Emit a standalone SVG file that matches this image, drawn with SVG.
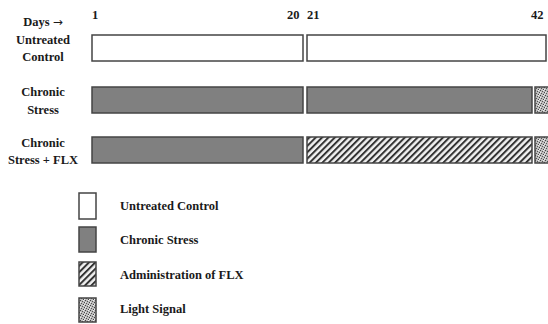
<svg xmlns="http://www.w3.org/2000/svg" width="548" height="324" viewBox="0 0 548 324">
<defs>
<pattern id="hatch" patternUnits="userSpaceOnUse" width="4.5" height="4.5" patternTransform="rotate(45)">
<rect width="4.5" height="4.5" fill="#f2f2f2"/>
<rect width="2" height="4.5" fill="#333"/>
</pattern>
<pattern id="stipple" patternUnits="userSpaceOnUse" width="5" height="5">
<rect width="5" height="5" fill="#bdbdbd"/>
<rect x="0" y="0" width="1" height="1" fill="#444"/>
<rect x="2" y="1" width="1" height="1" fill="#555"/>
<rect x="4" y="2" width="1" height="1" fill="#444"/>
<rect x="1" y="3" width="1" height="1" fill="#555"/>
<rect x="3" y="4" width="1" height="1" fill="#444"/>
<rect x="3" y="0" width="1" height="1" fill="#eee"/>
<rect x="0" y="2" width="1" height="1" fill="#eee"/>
<rect x="4" y="4" width="1" height="1" fill="#eee"/>
</pattern>
</defs>
<style>
.t{font-family:"Liberation Serif","DejaVu Serif",serif;font-weight:bold;font-size:12.5px;fill:#1a1a1a}
.m{text-anchor:middle}
.arr{font-family:"DejaVu Sans",sans-serif;font-weight:normal;font-size:12px}
.bar{stroke:#444;stroke-width:1.5}
.w{fill:#fff}
.g{fill:#808080}
.h{fill:url(#hatch)}
.s{fill:url(#stipple)}
</style>
<rect width="548" height="324" fill="#fff"/>
<g id="axis">
<text class="t m" x="43" y="26">Days <tspan class="arr">→</tspan></text>
<text class="t" x="92" y="19">1</text>
<text class="t" x="287" y="19">20</text>
<text class="t" x="307" y="19">21</text>
<text class="t" x="531" y="19">42</text>
</g>
<g id="row-untreated">
<text class="t m" x="43" y="44">Untreated</text>
<text class="t m" x="43" y="61">Control</text>
<rect class="bar w" x="92" y="35" width="211" height="26"/>
<rect class="bar w" x="307" y="35" width="239" height="26"/>
</g>
<g id="row-stress">
<text class="t m" x="43" y="96">Chronic</text>
<text class="t m" x="43" y="114">Stress</text>
<rect class="bar g" x="92" y="87" width="211" height="26"/>
<rect class="bar g" x="307" y="87" width="225" height="26"/>
<rect class="bar s" x="535" y="87" width="15" height="26"/>
</g>
<g id="row-flx">
<text class="t m" x="43" y="147">Chronic</text>
<text class="t m" x="43" y="164">Stress + FLX</text>
<rect class="bar g" x="92" y="137" width="211" height="26"/>
<rect class="bar h" x="307" y="137" width="225" height="26"/>
<rect class="bar s" x="535" y="137" width="15" height="26"/>
</g>
<g id="legend">
<rect class="bar w" x="79" y="193" width="17" height="26"/>
<text class="t" x="120" y="210">Untreated Control</text>
<rect class="bar g" x="79" y="227" width="17" height="25"/>
<text class="t" x="120" y="244">Chronic Stress</text>
<rect class="bar h" x="79" y="262" width="17" height="24"/>
<text class="t" x="120" y="279">Administration of FLX</text>
<rect class="bar s" x="79" y="298" width="17" height="24"/>
<text class="t" x="120" y="313">Light Signal</text>
</g>
<g id="connectors"></g>
</svg>
